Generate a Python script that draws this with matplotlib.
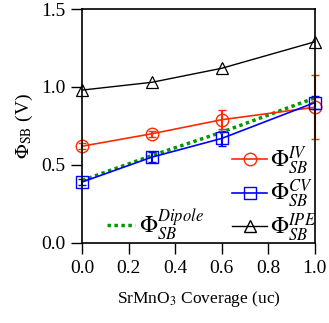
import matplotlib
matplotlib.use("Agg")
import matplotlib.pyplot as plt
from matplotlib.lines import Line2D

plt.rcParams['font.family'] = ['Liberation Serif', 'DejaVu Serif']
plt.rcParams['mathtext.fontset'] = 'stix'

coverage = [0.0, 0.3, 0.6, 1.0]
phi_iv = [0.62, 0.70, 0.79, 0.87]
phi_iv_err = [0.02, 0.02, 0.06, 0.205]
phi_cv = [0.39, 0.55, 0.67, 0.90]
phi_cv_err = [0.02, 0.03, 0.05, 0.04]
phi_ipe = [0.98, 1.03, 1.12, 1.29]
phi_dipole = [0.40, 0.56, 0.71, 0.93]

RED = '#ff2a00'
BLUE = '#0000ff'
GREEN = '#009900'

fig = plt.figure(figsize=(3.29, 3.23), dpi=100)
ax = fig.add_axes([0.249, 0.248, 0.708, 0.724])

l_iv = ax.errorbar(coverage, phi_iv, yerr=phi_iv_err, color=RED, marker='o',
                   markersize=9, markerfacecolor='none', markeredgewidth=1.0,
                   lw=1.2, capsize=3, elinewidth=1.5, clip_on=False)
l_cv = ax.errorbar(coverage, phi_cv, yerr=phi_cv_err, color=BLUE, marker='s',
                   markersize=9, markerfacecolor='none', markeredgewidth=1.0,
                   lw=1.2, capsize=3, elinewidth=1.5, clip_on=False)
ax.plot(coverage, phi_ipe, color='black', marker='^', markersize=9,
        markerfacecolor='none', markeredgewidth=0.9, lw=1.0, clip_on=False)
ax.plot(coverage, phi_dipole, color=GREEN, ls=(0, (1, 1)), lw=2.5)

for h in (l_iv, l_cv):
    for c in h[1]:
        c.set_clip_on(False)
    for b in h[2]:
        b.set_clip_on(False)

ax.set_xlim(0, 1.0)
ax.set_ylim(0, 1.5)
ax.set_xticks([0.0, 0.2, 0.4, 0.6, 0.8, 1.0])
ax.set_yticks([0.0, 0.5, 1.0, 1.5])
ax.set_xticklabels(['0.0', '0.2', '0.4', '0.6', '0.8', '1.0'])
ax.set_yticklabels(['0.0', '0.5', '1.0', '1.5'])
ax.tick_params(direction='out', length=8, width=1, labelsize=14, pad=4)
for s in ax.spines.values():
    s.set_linewidth(1.2)

ax.set_xlabel(r'SrMnO$_3$ Coverage (uc)', fontsize=12.5, labelpad=9)
ax.set_ylabel(r'$\Phi_{\mathrm{SB}}$ (V)', fontsize=14, labelpad=4)

h_iv = Line2D([], [], color=RED, marker='o', markersize=9, markerfacecolor='none', lw=1.2)
h_cv = Line2D([], [], color=BLUE, marker='s', markersize=9, markerfacecolor='none', lw=1.2)
h_ipe = Line2D([], [], color='black', marker='^', markersize=9, markerfacecolor='none', lw=1.0)
h_dip = Line2D([], [], color=GREEN, ls=(0, (1, 1)), lw=2.5)

leg1 = ax.legend([h_iv, h_cv, h_ipe],
                 [r'$\Phi_{SB}^{IV}$', r'$\Phi_{SB}^{CV}$', r'$\Phi_{SB}^{IPE}$'],
                 loc='upper left', bbox_to_anchor=(0.644, 0.42), frameon=False,
                 fontsize=17, handlelength=1.5, handletextpad=0.1,
                 labelspacing=0.05, borderpad=0, borderaxespad=0)
ax.add_artist(leg1)
ax.legend([h_dip], [r'$\Phi_{SB}^{Dipole}$'], loc='upper left',
          bbox_to_anchor=(0.107, 0.15), frameon=False, fontsize=17,
          handlelength=1.2, handletextpad=0.15, borderpad=0, borderaxespad=0)

fig.savefig('out.png', dpi=100)
